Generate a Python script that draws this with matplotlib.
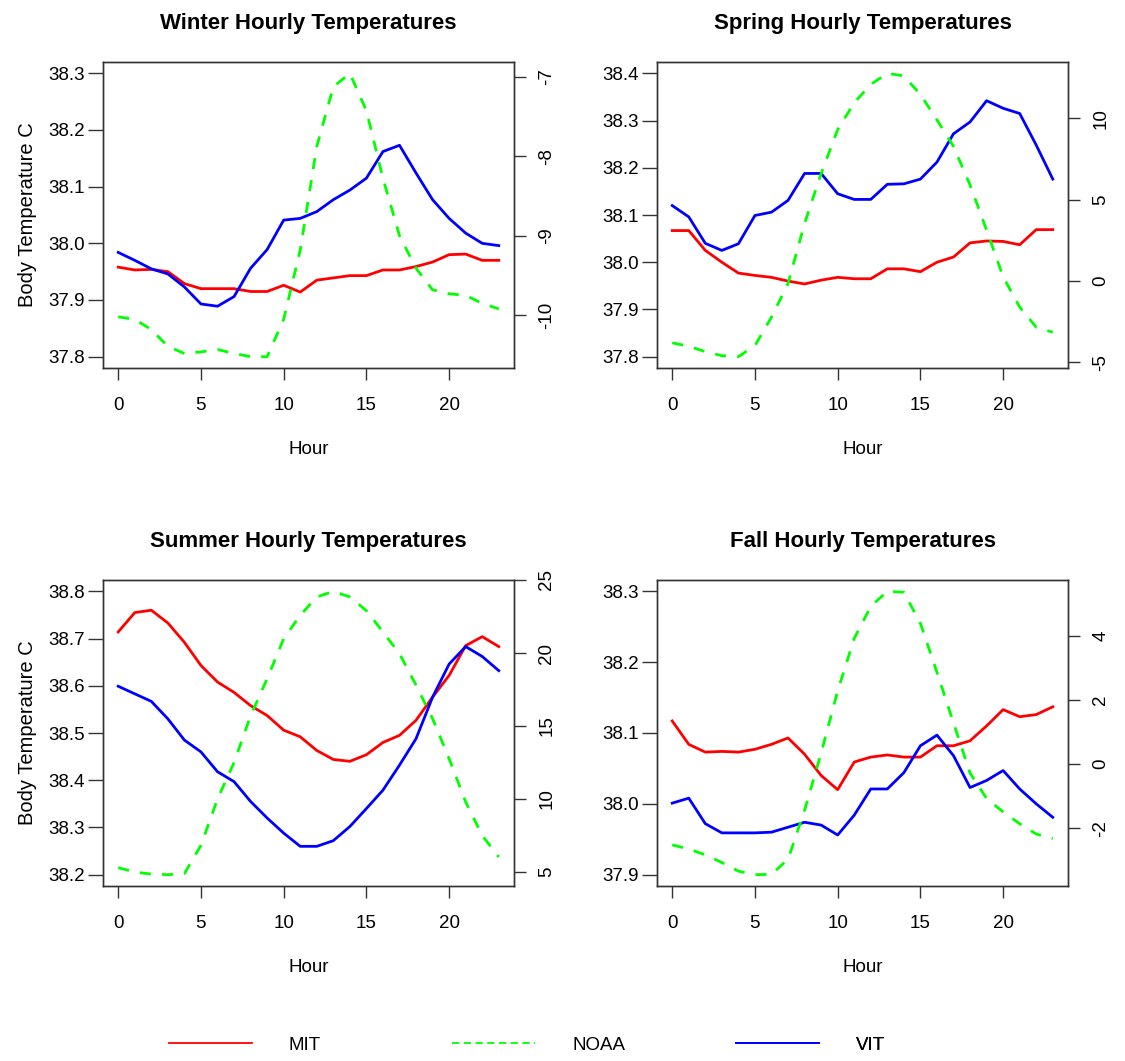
import matplotlib
matplotlib.use("Agg")
import matplotlib.pyplot as plt
from matplotlib.lines import Line2D

plt.rcParams['font.family'] = ['Liberation Sans', 'DejaVu Sans']
plt.rcParams['axes.unicode_minus'] = False

hours = list(range(24))

# body temperatures (left axis) and air temperature (right axis) per season
winter_mit = [37.958, 37.953, 37.954, 37.950, 37.929, 37.920, 37.920, 37.920, 37.915, 37.915, 37.926, 37.914,
              37.935, 37.939, 37.943, 37.943, 37.953, 37.953, 37.959, 37.967, 37.980, 37.981, 37.970, 37.970]
winter_vit = [37.984, 37.970, 37.955, 37.946, 37.923, 37.893, 37.889, 37.906, 37.956, 37.989, 38.041, 38.044,
              38.056, 38.077, 38.094, 38.115, 38.162, 38.173, 38.124, 38.077, 38.044, 38.018, 38.000, 37.996]
winter_noaa = [-10.02, -10.05, -10.18, -10.39, -10.48, -10.46, -10.43, -10.48, -10.52, -10.52, -10.05, -9.18,
               -7.88, -7.13, -6.96, -7.43, -8.28, -9.00, -9.41, -9.68, -9.73, -9.75, -9.85, -9.92]

spring_mit = [38.067, 38.067, 38.025, 38.000, 37.977, 37.972, 37.968, 37.960, 37.954, 37.962, 37.968, 37.965,
              37.965, 37.986, 37.986, 37.980, 38.000, 38.011, 38.041, 38.045, 38.044, 38.037, 38.069, 38.069]
spring_vit = [38.120, 38.096, 38.040, 38.025, 38.039, 38.099, 38.106, 38.131, 38.188, 38.188, 38.145, 38.133,
              38.133, 38.165, 38.166, 38.176, 38.212, 38.272, 38.297, 38.342, 38.326, 38.315, 38.248, 38.176]
spring_noaa = [-3.80, -4.01, -4.34, -4.59, -4.65, -3.97, -2.22, -0.16, 3.54, 6.60, 9.30, 10.95,
               12.08, 12.76, 12.60, 11.46, 9.90, 8.27, 5.90, 3.13, 0.25, -1.60, -2.84, -3.15]

summer_mit = [38.714, 38.755, 38.760, 38.733, 38.692, 38.643, 38.608, 38.586, 38.558, 38.537, 38.506, 38.492,
              38.463, 38.444, 38.440, 38.454, 38.480, 38.495, 38.527, 38.576, 38.622, 38.685, 38.704, 38.683]
summer_vit = [38.599, 38.583, 38.567, 38.530, 38.485, 38.460, 38.418, 38.397, 38.355, 38.320, 38.288, 38.260,
              38.260, 38.272, 38.302, 38.340, 38.379, 38.432, 38.488, 38.576, 38.646, 38.683, 38.662, 38.632]
summer_noaa = [5.30, 5.00, 4.86, 4.82, 4.89, 6.83, 10.00, 12.50, 15.70, 18.24, 20.98, 22.58,
               23.84, 24.22, 23.84, 22.90, 21.44, 19.95, 17.80, 15.50, 12.76, 9.80, 7.50, 6.03]

fall_mit = [38.117, 38.084, 38.073, 38.074, 38.073, 38.077, 38.084, 38.093, 38.070, 38.040, 38.020, 38.059,
            38.066, 38.069, 38.066, 38.066, 38.082, 38.082, 38.089, 38.110, 38.133, 38.123, 38.126, 38.137]
fall_vit = [38.001, 38.008, 37.972, 37.959, 37.959, 37.959, 37.960, 37.967, 37.974, 37.970, 37.956, 37.984,
            38.021, 38.021, 38.044, 38.082, 38.097, 38.068, 38.023, 38.033, 38.047, 38.021, 38.000, 37.981]
fall_noaa = [-2.52, -2.65, -2.83, -3.07, -3.34, -3.45, -3.44, -2.97, -1.44, 0.35, 2.29, 3.93,
             4.93, 5.40, 5.37, 4.40, 2.87, 1.29, -0.28, -1.07, -1.49, -1.86, -2.18, -2.32]

seasons = ["Winter", "Spring", "Summer", "Fall"]
body_lims = [(37.8, 38.3), (37.8, 38.4), (38.2, 38.8), (37.9, 38.3)]
body_ticks = [[37.8, 37.9, 38.0, 38.1, 38.2, 38.3],
              [37.8, 37.9, 38.0, 38.1, 38.2, 38.3, 38.4],
              [38.2, 38.3, 38.4, 38.5, 38.6, 38.7, 38.8],
              [37.9, 38.0, 38.1, 38.2, 38.3]]
air_ticks = [[-10, -9, -8, -7], [-5, 0, 5, 10], [5, 10, 15, 20, 25], [-2, 0, 2, 4]]
hour_ticks = [0, 5, 10, 15, 20]

mit = [winter_mit, spring_mit, summer_mit, fall_mit]
vit = [winter_vit, spring_vit, summer_vit, fall_vit]
noaa = [winter_noaa, spring_noaa, summer_noaa, fall_noaa]

fig = plt.figure(figsize=(11.25, 10.61), dpi=100)
W, H = 1125, 1061
boxes = [(103, 62), (657, 62), (103, 580), (657, 580)]
bw, bh = 411, 306

FS = 13.5
dash = (0, (4, 4))


def pad_lim(lo, hi, f=0.04):
    r = hi - lo
    return lo - f * r, hi + f * r


for i, s in enumerate(seasons):
    x0, y0 = boxes[i]
    ax = fig.add_axes([x0 / W, 1 - (y0 + bh) / H, bw / W, bh / H])
    ax.plot(hours, mit[i], color="#ff0000", lw=2)
    ax.plot(hours, vit[i], color="#0000ff", lw=2)
    ax.set_xlim(*pad_lim(0, 23))
    ax.set_ylim(*pad_lim(*body_lims[i]))
    ax.set_xticks(hour_ticks)
    ax.set_yticks(body_ticks[i])
    ax.set_yticklabels(["%.1f" % v for v in body_ticks[i]])
    ax.tick_params(axis="x", length=8.6, width=1, pad=12, labelsize=FS, colors="#333333", labelcolor="black")
    ax.tick_params(axis="y", length=11, width=1, pad=2, labelsize=FS, colors="#333333", labelcolor="black")
    ax.set_xlabel("Hour", fontsize=FS, labelpad=20)
    if i % 2 == 0:
        ax.set_ylabel("Body Temperature C", fontsize=FS + 1, labelpad=8)
    ax.set_title(s + " Hourly Temperatures", fontsize=16, fontweight="bold", pad=24)
    for sp in ax.spines.values():
        sp.set_color("#333333")
        sp.set_linewidth(1)

    ax2 = ax.twinx()
    ax2.plot(hours, noaa[i], color="#00ff00", lw=2, linestyle=dash)
    ax2.set_ylim(*pad_lim(min(noaa[i]), max(noaa[i])))
    ax2.set_yticks(air_ticks[i])
    ax2.tick_params(axis="y", length=8.6, width=1, pad=9, labelsize=FS, colors="#333333",
                    labelcolor="black", labelrotation=90)
    for lab in ax2.get_yticklabels():
        lab.set_verticalalignment("center")
    for sp in ax2.spines.values():
        sp.set_color("#333333")
        sp.set_linewidth(1)

# legend row along the bottom
leg_ax = fig.add_axes([0, 0, 1, 0.04])
leg_ax.axis("off")
entries = [("MIT", "#ff0000", "-", 169), ("NOAA", "#00ff00", (0, (4, 2.5)), 452), ("VIT", "#0000ff", "-", 736)]
for name, col, ls, xl in entries:
    h = Line2D([], [], color=col, lw=1.3, linestyle=ls)
    lg = leg_ax.legend([h], [name], loc="center left", bbox_to_anchor=(xl / W, (1061 - 1045) / 1061 / 0.04),
                       frameon=False, fontsize=FS, handlelength=4.4, handletextpad=2.0,
                       borderpad=0, borderaxespad=0)
    leg_ax.add_artist(lg)

fig.savefig("out.png", dpi=100)
